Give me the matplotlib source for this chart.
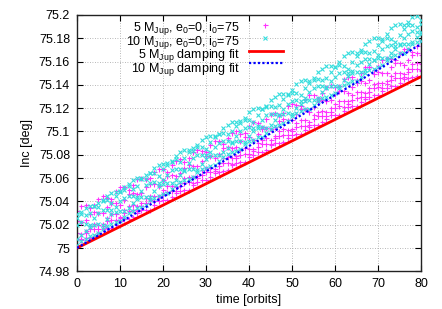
import numpy as np
import matplotlib
matplotlib.use("Agg")
import matplotlib.pyplot as plt

plt.rcParams["font.family"] = ["Liberation Sans", "DejaVu Sans"]
plt.rcParams["mathtext.fontset"] = "custom"
plt.rcParams["mathtext.rm"] = "Liberation Sans"
plt.rcParams["mathtext.it"] = "Liberation Sans:italic"

# sampling times [orbits]
t_orbits = np.arange(0, 81)

# inclination above 75 deg, in 0.001 deg (a few tracks per run)
inc5_a = [32,36,37,34,37,42,45,43,42,49,52,52,50,54,59,60,59,60,65,68,68,65,71,75,76,74,77,82,84,83,82,
          88,92,92,89,94,99,100,98,99,105,108,107,104,111,115,116,114,116,122,124,123,122,128,131,131,129,
          133,138,140,138,139,145,147,147,144,150,155,155,153,156,161,163,162,161,167,171,171,168,173,178]
inc5_b = [23,22,24,29,31,30,30,35,39,39,37,41,46,47,46,47,52,55,55,53,58,62,63,62,64,69,71,70,70,75,79,
          79,77,81,86,87,86,87,92,95,95,93,98,102,103,102,104,109,111,110,110,115,119,119,117,121,126,127,
          126,127,132,135,135,133,138,142,143,142,144,149,151,150,150,155,159,159,157,161,166,167,166]
inc5_c = [13,12,15,19,21,20,21,26,29,29,27,33,36,37,36,39,43,45,45,45,50,53,53,52,56,60,61,61,62,67,69,
          69,68,73,77,78,77,79,84,86,85,85,90,93,94,93,96,100,102,101,102,107,110,110,108,114,117,118,117,
          120,124,126,126,126,131,134,134,133,137,141,142,142,143,148,150,150,149,154,158,159,158]
inc5_d = [8,8,13,16,16,16,19,23,24,24,26,30,32,33,32,36,39,41,40,43,46,48,49,49,53,56,57,56,60,63,65,
          65,66,70,73,73,72,77,80,81,81,83,87,89,89,89,94,96,97,97,100,104,105,105,106,111,113,113,113,
          117,120,122,121,124,127,129,130,130,134,137,138,137,141,144,146,146,147,151,154,154,153]
inc5_e = [3,7,9,9,10,13,16,17,17,20,23,25,25,27,30,33,33,33,37,40,41,41,44,47,49,50,50,54,57,58,58,61,
          64,65,66,67,71,73,74,74,78,80,82,82,84,88,90,90,91,94,97,98,98,101,104,106,106,108,111,114,114,
          114,118,121,122,122,125,128,130,131,131,135,137,139,139,142,145,146,147,148,152]

inc10_a = [26,31,34,36,36,35,40,45,47,48,48,50,55,58,60,60,59,64,69,71,72,71,74,79,82,84,84,83,88,93,95,
           96,95,98,103,106,108,108,107,112,117,119,120,119,122,127,130,132,132,131,136,141,143,144,143,
           146,151,154,156,156,155,160,165,167,168,167,170,175,178,180,180,179,184,189,191,192,191,194,198,199,196]
inc10_b = [29,29,28,30,36,39,41,41,39,45,49,52,53,51,53,59,63,64,64,62,68,73,75,76,74,77,82,86,87,87,85,
           91,96,98,99,98,100,105,109,110,110,108,114,119,121,122,121,123,128,132,133,133,131,137,142,144,
           145,144,146,151,155,157,156,154,160,165,168,168,167,169,174,178,180,179,177,183,188,191,191,190,192]
inc10_c = [20,22,21,20,26,30,33,33,33,35,40,43,45,45,44,49,54,56,57,56,58,63,67,68,68,67,73,77,80,80,80,
           82,87,90,92,92,91,96,100,103,104,103,105,110,114,115,115,114,119,124,126,127,126,129,134,137,139,
           139,138,143,147,150,151,150,152,157,160,162,162,161,166,171,173,174,173,175,180,184,186,185,184]
inc10_d = [8,11,15,18,20,21,20,25,29,31,32,32,34,39,42,44,44,44,49,53,55,56,56,58,63,66,68,68,67,72,76,
           79,80,80,82,86,90,92,92,91,96,100,103,104,103,106,110,114,115,116,115,120,124,126,127,127,129,
           134,137,139,139,139,144,148,150,151,151,153,158,161,163,163,163,167,171,174,175,175,177,181,185]
inc10_e = [3,6,8,10,11,13,16,19,21,22,23,27,30,32,34,35,37,41,43,45,46,47,51,54,57,58,59,61,65,68,69,70,
           71,75,78,81,82,83,85,89,92,93,95,95,99,102,105,106,107,109,113,116,118,119,119,123,126,129,130,
           131,133,137,140,142,143,143,147,150,153,154,155,157,161,164,166,167,167,171,175,177,178]

# damping fits
fit_t = [0, 80]
fit5 = [75.0, 75.147]
fit10 = [75.0, 75.175]

labels = [r"5 M$_\mathregular{Jup}$, e$_\mathregular{0}$=0, i$_\mathregular{0}$=75",
          r"10 M$_\mathregular{Jup}$, e$_\mathregular{0}$=0, i$_\mathregular{0}$=75",
          r"5 M$_\mathregular{Jup}$ damping fit",
          r"10 M$_\mathregular{Jup}$ damping fit"]

c5 = "#ff33ff"
c10 = "#33dddd"
pts5 = dict(ls="none", marker="+", ms=3.6, mew=0.8, color=c5)
pts10 = dict(ls="none", marker="x", ms=3.0, mew=0.8, color=c10)
line5 = dict(color="#ff0000", lw=2)
line10 = dict(color="#0000ff", lw=1.6, ls=(0, (1, 1)))

fig = plt.figure(figsize=(4.42, 3.09), dpi=100)
ax = fig.add_axes([0.1742, 0.122, 0.7783, 0.8295])

for tr in [inc5_a, inc5_b, inc5_c, inc5_d, inc5_e]:
    ax.plot(t_orbits, 75 + np.array(tr) / 1000, zorder=2, **pts5)
for tr in [inc10_a, inc10_b, inc10_c, inc10_d, inc10_e]:
    ax.plot(t_orbits, 75 + np.array(tr) / 1000, zorder=3, **pts10)
ax.plot(fit_t, fit5, zorder=4, **line5)
ax.plot(fit_t, fit10, zorder=5, **line10)

ax.set_xlim(0, 80)
ax.set_ylim(74.98, 75.2)
ax.set_xticks(range(0, 81, 10))
ax.set_yticks(np.arange(74.98, 75.2001, 0.02))
ax.set_yticklabels(["74.98", "75", "75.02", "75.04", "75.06", "75.08", "75.1",
                    "75.12", "75.14", "75.16", "75.18", "75.2"])
ax.tick_params(direction="in", top=True, right=True, length=4, width=0.8,
               labelsize=9, pad=5)
ax.grid(True, color="#a0a0a0", ls=(0, (1, 2)), lw=0.6)
for s in ax.spines.values():
    s.set_linewidth(1)
    s.set_color("#222222")

ax.set_xlabel("time [orbits]", fontsize=9, labelpad=3)
ax.set_ylabel("Inc [deg]", fontsize=9, labelpad=4)

# gnuplot-style key: one right-aligned text block, samples to the right
ax.text(0.474, 0.982, "\n".join(labels), transform=ax.transAxes, ha="right", va="top",
        multialignment="right", fontsize=9, linespacing=0.72)
key_y = [0.961, 0.910, 0.860, 0.813]
ax.plot([0.5465], [key_y[0]], transform=ax.transAxes, clip_on=False, **pts5)
ax.plot([0.5465], [key_y[1]], transform=ax.transAxes, clip_on=False, **pts10)
ax.plot([0.50, 0.599], [key_y[2]] * 2, transform=ax.transAxes, clip_on=False, **line5)
ax.plot([0.50, 0.599], [key_y[3]] * 2, transform=ax.transAxes, clip_on=False, **line10)

fig.savefig("out.png", dpi=100)
